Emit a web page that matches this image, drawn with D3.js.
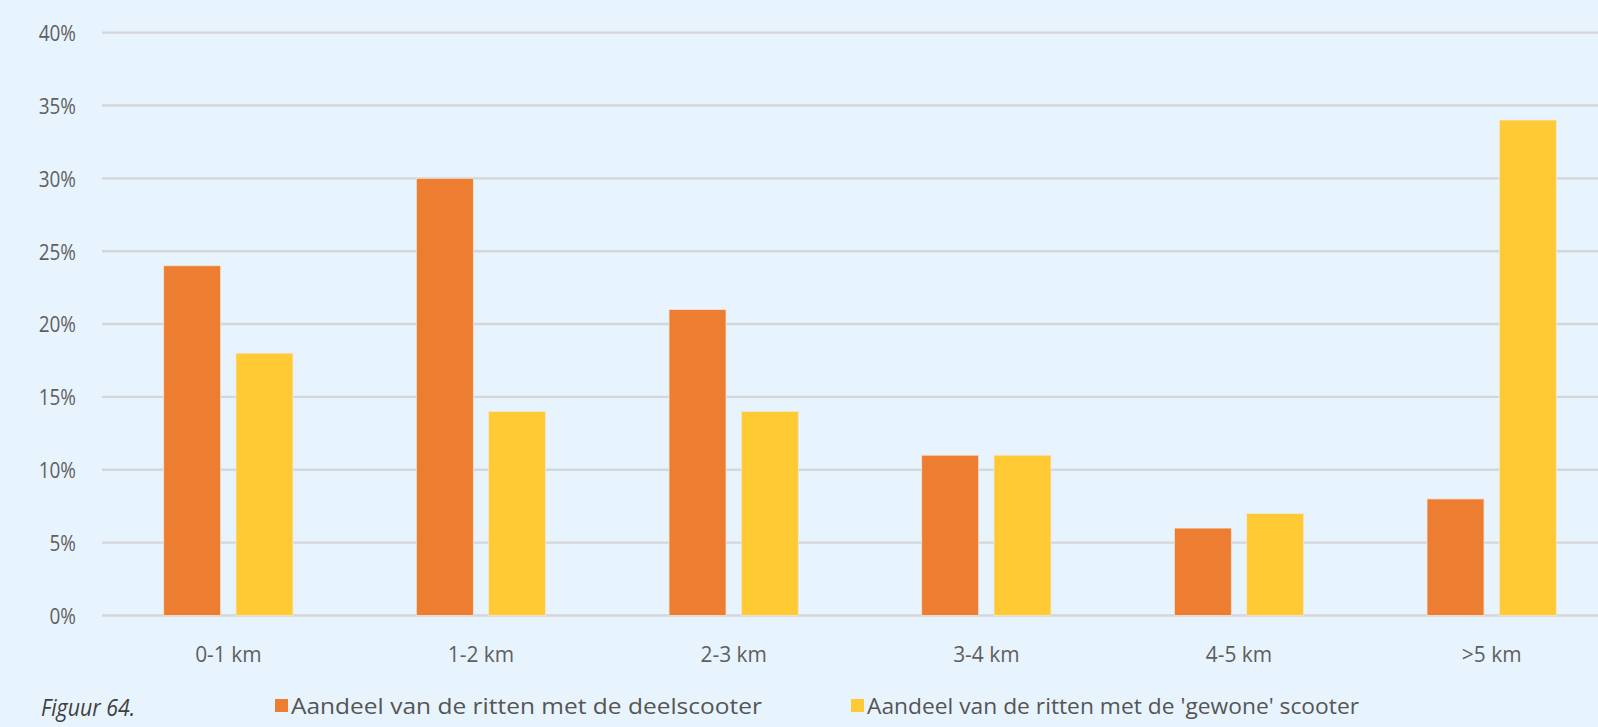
<!DOCTYPE html>
<html>
<head>
<meta charset="utf-8">
<script src="https://cdn.jsdelivr.net/npm/d3@7"></script>
<style>
  html, body { margin: 0; padding: 0; background: #E8F4FD; overflow: hidden; }
  svg { display: block; }
</style>
</head>
<body>
<svg id="chart" width="1598" height="727"></svg>
<script>
const categories = ["0-1 km", "1-2 km", "2-3 km", "3-4 km", "4-5 km", ">5 km"];
const seriesNames = ["Aandeel van de ritten met de deelscooter", "Aandeel van de ritten met de 'gewone' scooter"];
const deelscooter = [24, 30, 21, 11, 6, 8];
const gewoneScooter = [18, 14, 14, 11, 7, 34];
const yTicks = [0, 5, 10, 15, 20, 25, 30, 35, 40];
const colors = ["#ED7D31", "#FFCA33"];
const caption = "Figuur 64.";

const svg = d3.select("#chart");
const W = 1598, H = 727;
const plotLeft = 102, plotRight = 1618, yTop = 32.6, yBottom = 615.5;

function condense(sel, f) {
  sel.each(function () {
    const len = this.getComputedTextLength();
    d3.select(this).attr("textLength", len * f).attr("lengthAdjust", "spacingAndGlyphs");
  });
}

const x0 = d3.scaleBand().domain(categories).range([plotLeft, plotRight]).padding(0);
const groupW = 129.3;
const x1 = d3.scaleBand().domain(seriesNames)
  .range([(x0.bandwidth() - groupW) / 2, (x0.bandwidth() + groupW) / 2])
  .paddingInner(0.2116);
const y = d3.scaleLinear().domain([0, 40]).range([yBottom, yTop]);
const color = d3.scaleOrdinal().domain(seriesNames).range(colors);

// gridlines
const gy = svg.append("g").attr("transform", `translate(${plotLeft},0)`);
gy.selectAll("line.grid").data(yTicks).join("line")
  .attr("class", "grid")
  .attr("x1", 0).attr("x2", W - plotLeft)
  .attr("y1", d => y(d)).attr("y2", d => y(d))
  .attr("stroke", "#D4D6D9").attr("stroke-width", 2.4);

// y axis labels
const yAxis = d3.axisLeft(y).tickValues(yTicks).tickFormat(d => d + "%").tickSize(0).tickPadding(0);
const yg = svg.append("g").attr("transform", `translate(76,0)`).call(yAxis);
yg.select(".domain").remove();
yg.selectAll("text")
  .attr("font-family", "'Open Sans', sans-serif")
  .attr("font-size", 22)
  .attr("fill", "#5f5f5f")
  .attr("dy", "0.36em")
  .call(condense, 0.86);

// bars
const rows = categories.map((c, i) => ({ cat: c, values: [deelscooter[i], gewoneScooter[i]] }));
const groups = svg.append("g").selectAll("g").data(rows).join("g")
  .attr("transform", d => `translate(${x0(d.cat)},0)`);
groups.selectAll("rect").data(d => seriesNames.map((s, j) => ({ s, v: d.values[j] }))).join("rect")
  .attr("x", d => x1(d.s))
  .attr("width", x1.bandwidth())
  .attr("y", d => y(d.v))
  .attr("height", d => y(0) - y(d.v))
  .attr("fill", d => color(d.s))
  .attr("stroke", "#F2E6D8").attr("stroke-width", 0.8);

// x axis labels
const xAxis = d3.axisBottom(x0).tickSize(0).tickPadding(0);
const xg = svg.append("g").attr("transform", `translate(0,${yBottom})`).call(xAxis);
xg.select(".domain").remove();
xg.selectAll("text")
  .attr("font-family", "'Open Sans', sans-serif")
  .attr("font-size", 22)
  .attr("fill", "#5f5f5f")
  .attr("y", 39)
  .attr("dy", "0.36em")
  .call(condense, 0.95);

// caption
svg.append("text")
  .attr("x", 41).attr("y", 716)
  .attr("font-family", "'Open Sans', sans-serif")
  .attr("font-style", "italic")
  .attr("font-size", 24)
  .attr("fill", "#404040")
  .attr("textLength", 94)
  .attr("lengthAdjust", "spacingAndGlyphs")
  .text(caption);

// legend
const legendItems = [
  { name: seriesNames[0], x: 275, len: 471 },
  { name: seriesNames[1], x: 851, len: 492 }
];
const lg = svg.append("g").selectAll("g").data(legendItems).join("g")
  .attr("transform", d => `translate(${d.x},0)`);
lg.append("rect").attr("x", 0).attr("y", 699).attr("width", 13).attr("height", 13)
  .attr("fill", d => color(d.name));
lg.append("text").attr("x", 16).attr("y", 714)
  .attr("font-family", "'Open Sans', sans-serif")
  .attr("font-size", 22)
  .attr("fill", "#555555")
  .attr("textLength", d => d.len)
  .attr("lengthAdjust", "spacingAndGlyphs")
  .text(d => d.name);
</script>
</body>
</html>
